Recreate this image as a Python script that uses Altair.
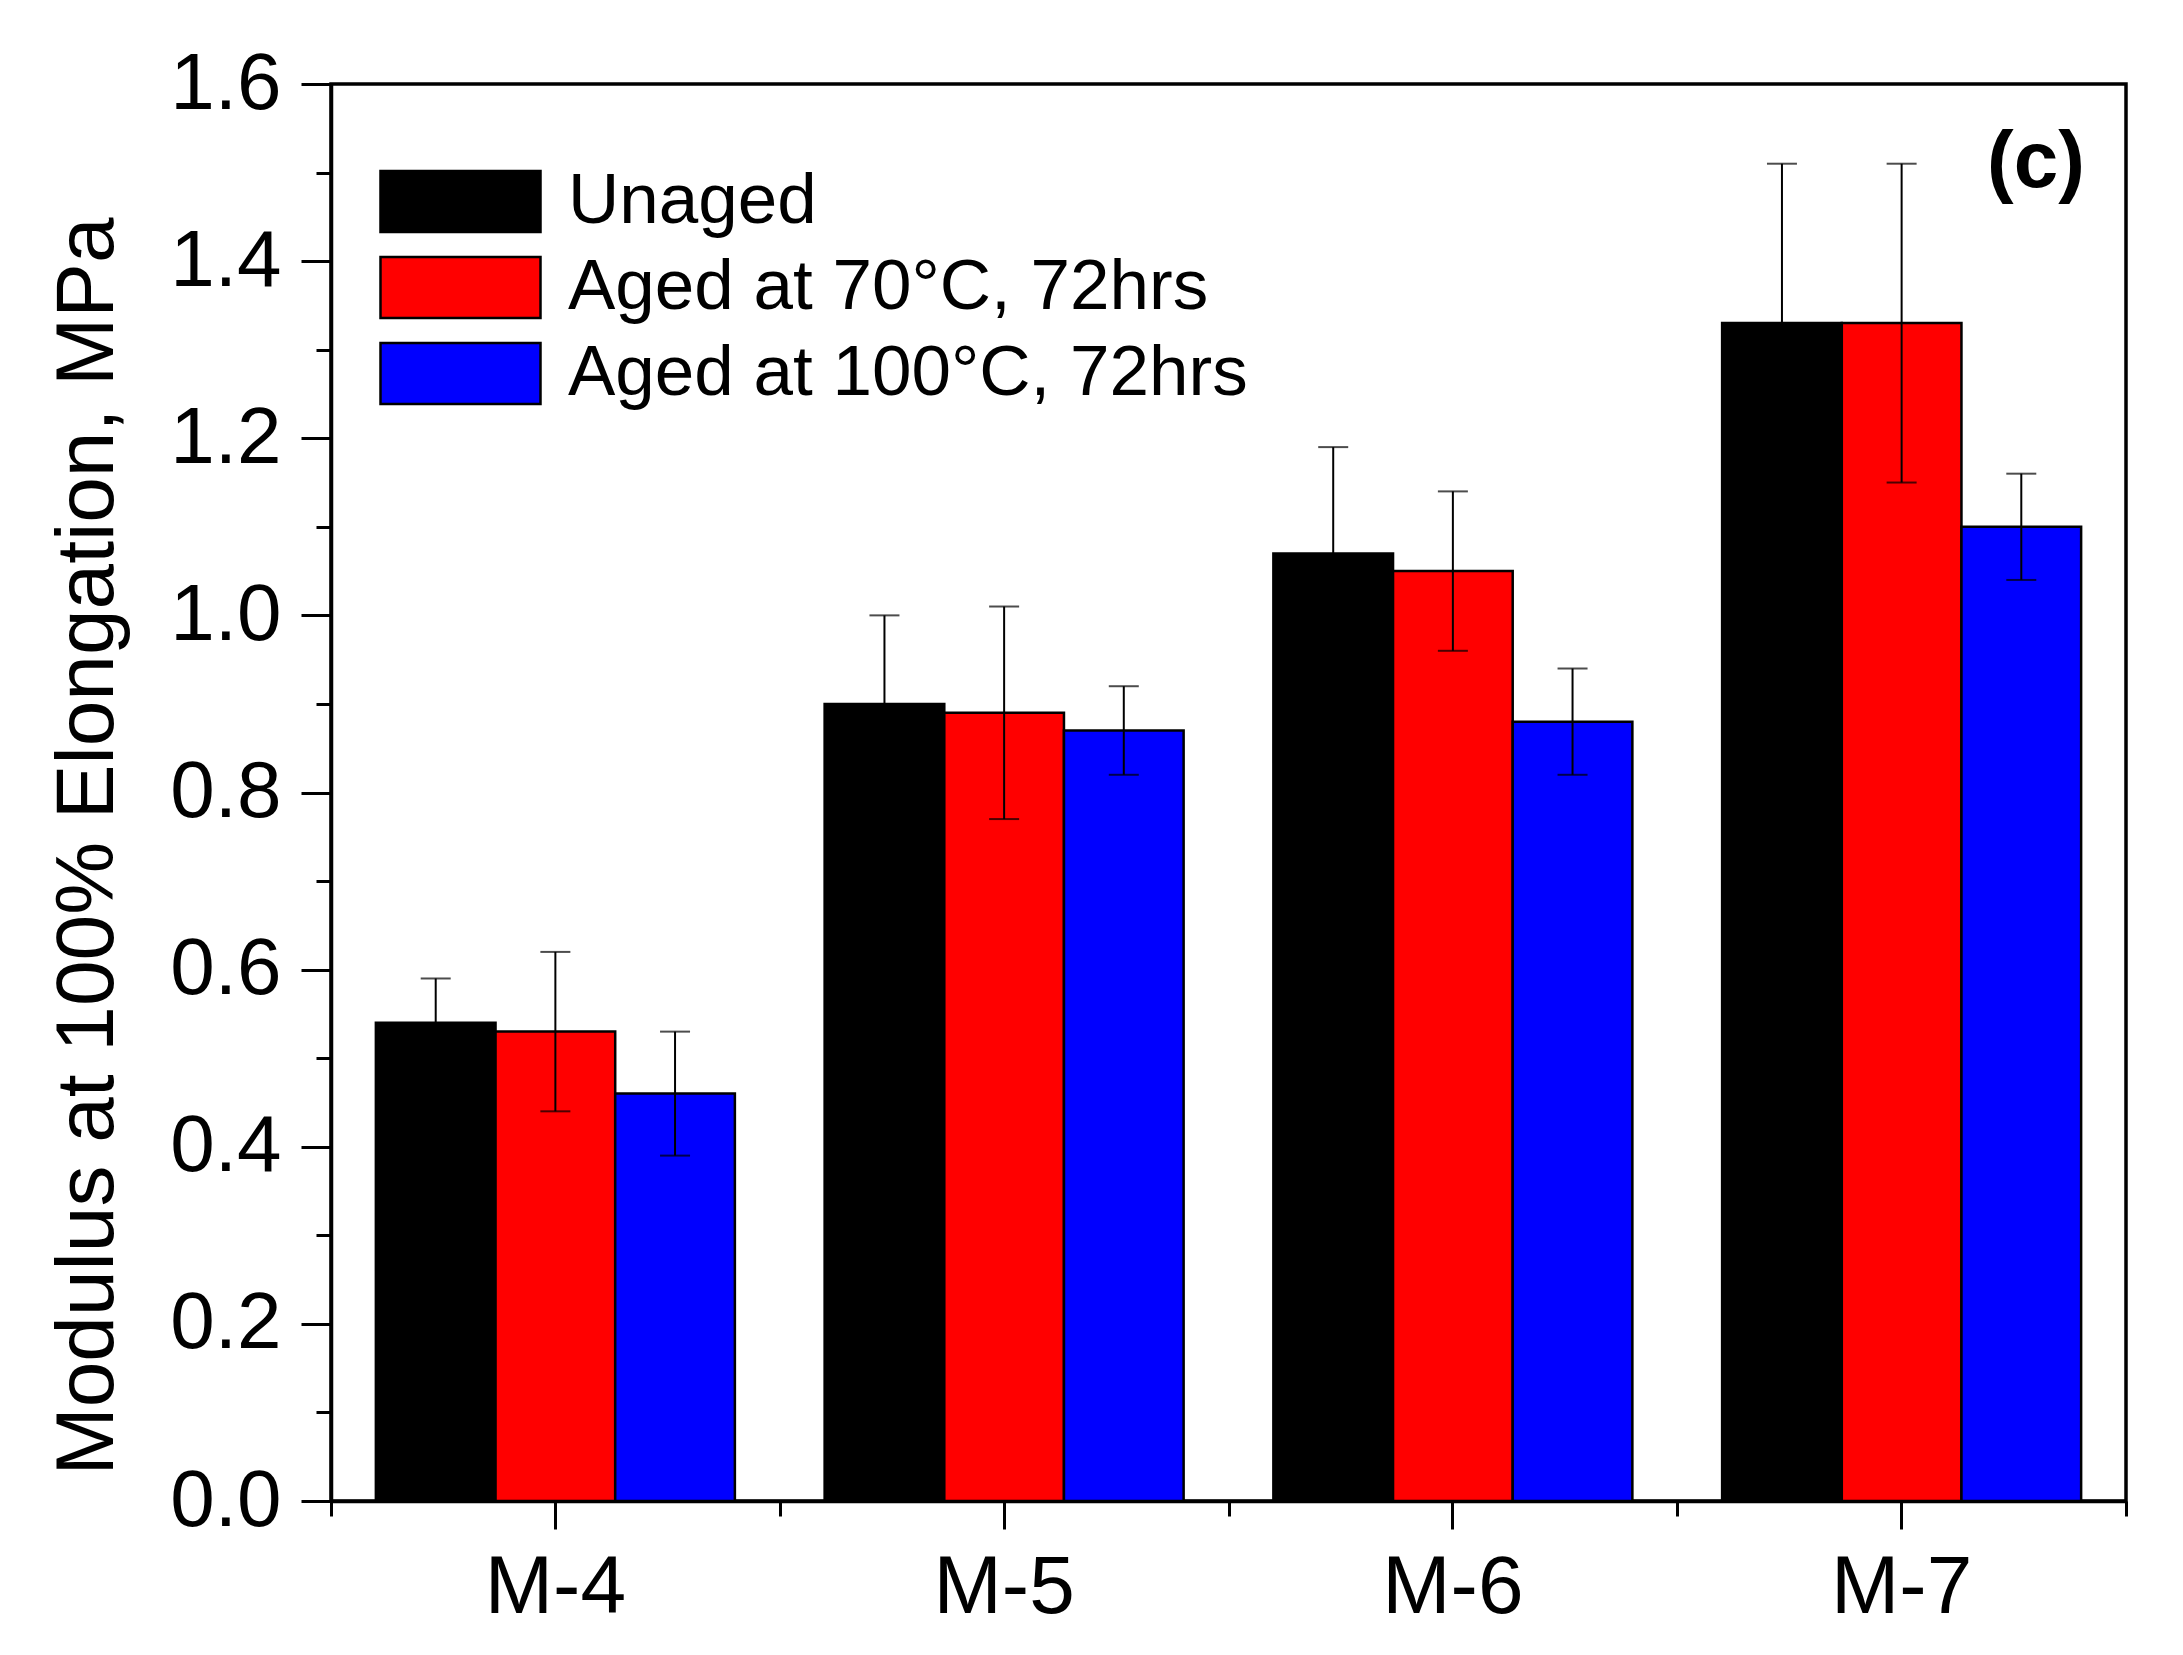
import altair as alt
import pandas as pd

samples = ["M-4", "M-5", "M-6", "M-7"]
series = ["Unaged", "Aged at 70°C, 72hrs", "Aged at 100°C, 72hrs"]
colors = ["#000000", "#ff0000", "#0000ff"]

unaged = [0.54, 0.90, 1.07, 1.33]
unaged_err = [0.05, 0.10, 0.12, 0.18]
aged70 = [0.53, 0.89, 1.05, 1.33]
aged70_err = [0.09, 0.12, 0.09, 0.18]
aged100 = [0.46, 0.87, 0.88, 1.10]
aged100_err = [0.07, 0.05, 0.06, 0.06]

y_major = [0.0, 0.2, 0.4, 0.6, 0.8, 1.0, 1.2, 1.4, 1.6]
y_minor = [0.1, 0.3, 0.5, 0.7, 0.9, 1.1, 1.3, 1.5]
y_title = "Modulus at 100% Elongation, MPa"
panel_label = "(c)"

rows = []
for s, vals, errs in zip(series, [unaged, aged70, aged100], [unaged_err, aged70_err, aged100_err]):
    for m, v, e in zip(samples, vals, errs):
        rows.append({"sample": m, "series": s, "value": v, "lo": v - e, "hi": v + e})
df = pd.DataFrame(rows)

FONT = "Liberation Sans"
W, H = 1795, 1417

xscale = alt.Scale(paddingInner=0, paddingOuter=0)
yscale = alt.Scale(domain=[0, 1.6], nice=False, zero=True)
xoff = alt.XOffset("series:N", sort=series, scale=alt.Scale(paddingInner=0, paddingOuter=0.375))

base = alt.Chart(df)

bars = base.mark_bar(stroke="black", strokeWidth=2.5, opacity=1).encode(
    x=alt.X("sample:N", sort=samples, title=None, scale=xscale,
            axis=alt.Axis(orient="bottom", labelAngle=0, tickSize=28, tickWidth=3,
                          labelPadding=18, labelFontSize=82, labelFont=FONT,
                          labelColor="black", domainColor="black", domainWidth=3.5,
                          tickColor="black", tickBand="center")),
    xOffset=xoff,
    y=alt.Y("value:Q", scale=yscale, title=y_title,
            axis=alt.Axis(orient="left", values=y_major, format=".1f", tickSize=30, tickWidth=3,
                          labelPadding=20, labelFontSize=80, labelFont=FONT, labelColor="black",
                          domainColor="black", domainWidth=3.5, tickColor="black",
                          titleFontSize=82, titleFont=FONT, titleFontWeight="normal",
                          titleColor="black", titleX=-244, titleY=762, titleAngle=-90,
                          titleAlign="center", titleBaseline="middle")),
    color=alt.Color("series:N", sort=series,
                    scale=alt.Scale(domain=series, range=colors),
                    legend=alt.Legend(title=None, orient="none", legendX=94, legendY=82,
                                      symbolType="M-2.623,-1H2.623V1H-2.623Z",
                                      symbolSize=3721, symbolStrokeColor="black",
                                      symbolStrokeWidth=2.5, symbolOpacity=1,
                                      labelFontSize=71, labelFont=FONT, labelColor="black",
                                      labelOffset=72, rowPadding=14, padding=0,
                                      labelLimit=2000)),
)

err = base.mark_rule(color="black", strokeWidth=2).encode(
    x=alt.X("sample:N", sort=samples, title=None, scale=xscale,
            axis=alt.Axis(orient="bottom", labels=False, domain=False, tickSize=15, tickWidth=3,
                          tickColor="black", tickBand="extent")),
    xOffset=xoff,
    y=alt.Y("lo:Q", scale=yscale, title=None,
            axis=alt.Axis(orient="left", values=y_minor, labels=False, domain=False,
                          tickSize=15, tickWidth=3, tickColor="black")),
    y2="hi:Q",
)

cap_hi = base.mark_tick(color="black", thickness=2, size=30).encode(
    x=alt.X("sample:N", sort=samples, scale=xscale, axis=None),
    xOffset=xoff,
    y=alt.Y("hi:Q", scale=yscale, axis=None),
)
cap_lo = base.mark_tick(color="black", thickness=2, size=30).encode(
    x=alt.X("sample:N", sort=samples, scale=xscale, axis=None),
    xOffset=xoff,
    y=alt.Y("lo:Q", scale=yscale, axis=None),
)

label = alt.Chart(pd.DataFrame({"label": [panel_label]})).mark_text(
    font=FONT, fontSize=80, fontWeight="bold", color="black", align="center", baseline="middle"
).encode(x=alt.value(1705), y=alt.value(79), text="label:N")

chart = alt.layer(bars, err, cap_hi, cap_lo, label).resolve_axis(
    x="independent", y="independent"
).properties(
    width=W, height=H,
    autosize=alt.AutoSizeParams(type="none"),
    padding={"left": 323, "top": 76, "right": 40, "bottom": 140},
).configure_view(stroke="black", strokeWidth=3.5).configure_axis(grid=False)

chart.save("out.html", embed_options={"renderer": "svg", "actions": False})
